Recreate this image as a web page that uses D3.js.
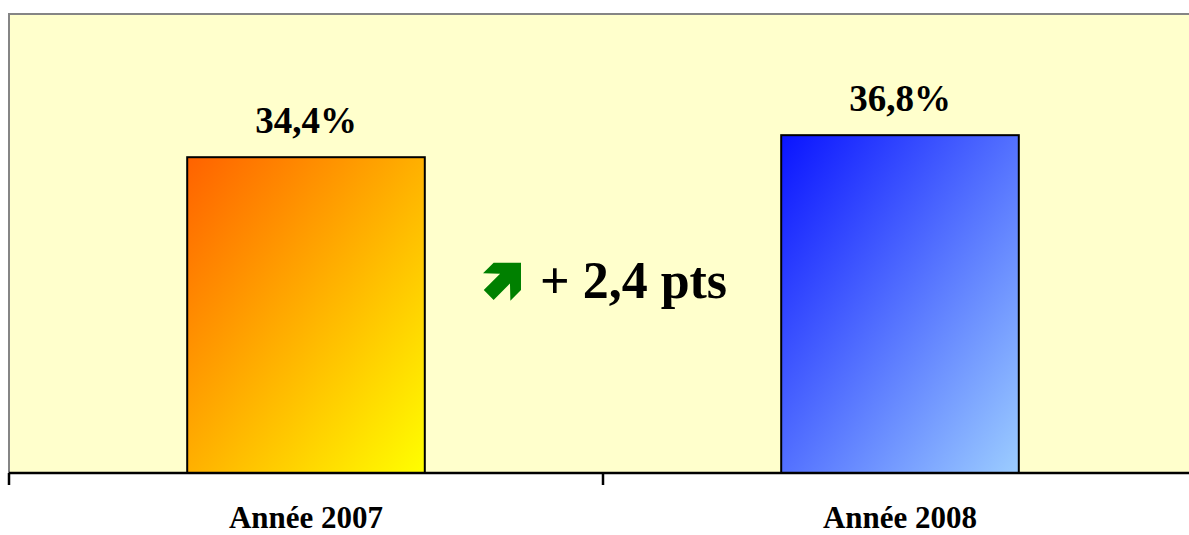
<!DOCTYPE html>
<html>
<head>
<meta charset="utf-8">
<script src="https://cdn.jsdelivr.net/npm/d3@7"></script>
<style>
  html, body { margin: 0; padding: 0; background: #ffffff; }
  svg { display: block; }
  text { font-family: "Liberation Serif", "Times New Roman", serif; font-weight: bold; fill: #000; }
</style>
</head>
<body>
<svg id="chart" width="1189" height="535"></svg>
<script>
// Share of the indicator, per year
const categories = ["Année 2007", "Année 2008"];
const values = [34.4, 36.8];
const valueLabels = ["34,4%", "36,8%"];
const yDomain = [0, 50];

const W = 1189, H = 535;
const plot = { left: 9, right: 1197, top: 14, bottom: 473 };

const svg = d3.select("#chart");

const x = d3.scaleBand().domain(categories).range([plot.left, plot.right]).padding(0);
const y = d3.scaleLinear().domain(yDomain).range([plot.bottom, plot.top]);
const barW = x.bandwidth() * 0.4;

// gradients for the two bars
const defs = svg.append("defs");
const gradients = [
  { id: "g2007", from: "#ff6200", to: "#ffff00" },
  { id: "g2008", from: "#0a14ff", to: "#9ccdff" }
];
gradients.forEach(g => {
  const lg = defs.append("linearGradient").attr("id", g.id)
    .attr("x1", 0).attr("y1", 0).attr("x2", 1).attr("y2", 1);
  lg.append("stop").attr("offset", "0%").attr("stop-color", g.from);
  lg.append("stop").attr("offset", "100%").attr("stop-color", g.to);
});

// plot background
svg.append("rect")
  .attr("x", plot.left).attr("y", plot.top)
  .attr("width", plot.right - plot.left).attr("height", plot.bottom - plot.top)
  .attr("fill", "#ffffcc");
// grey frame (top and left visible)
svg.append("path")
  .attr("d", `M${plot.left},${plot.bottom}V${plot.top}H${plot.right}`)
  .attr("fill", "none").attr("stroke", "#858585").attr("stroke-width", 2);

// bars
svg.selectAll("rect.bar").data(categories).join("rect")
  .attr("class", "bar")
  .attr("x", d => x(d) + (x.bandwidth() - barW) / 2)
  .attr("y", (d, i) => y(values[i]))
  .attr("width", barW)
  .attr("height", (d, i) => y(0) - y(values[i]))
  .attr("fill", (d, i) => `url(#${gradients[i].id})`)
  .attr("stroke", "#000").attr("stroke-width", 2);

// value labels
svg.selectAll("text.val").data(categories).join("text")
  .attr("class", "val")
  .attr("x", d => x(d) + x.bandwidth() / 2)
  .attr("y", (d, i) => y(values[i]) - 24)
  .attr("text-anchor", "middle")
  .style("font-size", "37px")
  .text((d, i) => valueLabels[i]);

// category axis: baseline plus ticks between categories
const axis = svg.append("g");
axis.append("line")
  .attr("x1", plot.left).attr("x2", plot.right)
  .attr("y1", plot.bottom).attr("y2", plot.bottom)
  .attr("stroke", "#000").attr("stroke-width", 2.5);
const bounds = categories.map(c => x(c)).concat([plot.right]);
axis.selectAll("line.tick").data(bounds).join("line")
  .attr("class", "tick")
  .attr("x1", d => d).attr("x2", d => d)
  .attr("y1", plot.bottom).attr("y2", plot.bottom + 12)
  .attr("stroke", "#000").attr("stroke-width", 2.5);
axis.selectAll("text").data(categories).join("text")
  .attr("x", d => x(d) + x.bandwidth() / 2)
  .attr("y", 528)
  .attr("text-anchor", "middle")
  .style("font-size", "31px")
  .text(d => d);

// change annotation between the bars
const delta = values[1] - values[0];
const deltaText = "+ " + d3.format(".1f")(delta).replace(".", ",") + " pts";
const midX = x(categories[1]);
const annY = y(19.1);
const arrowSize = 38;
const arrowShape = [[1,0],[0.28,0],[0,0.28],[0.45,0.29],[0.02,0.72],[0.28,0.98],[0.71,0.55],[0.72,1],[1,0.72]];
svg.append("polygon")
  .attr("points", arrowShape.map(p => [midX - 120 + p[0] * arrowSize, annY - 35 + p[1] * arrowSize].join(",")).join(" "))
  .attr("fill", "#008000");
svg.append("text")
  .attr("x", midX - 63)
  .attr("y", annY)
  .style("font-size", "52px")
  .text(deltaText);
</script>
</body>
</html>
